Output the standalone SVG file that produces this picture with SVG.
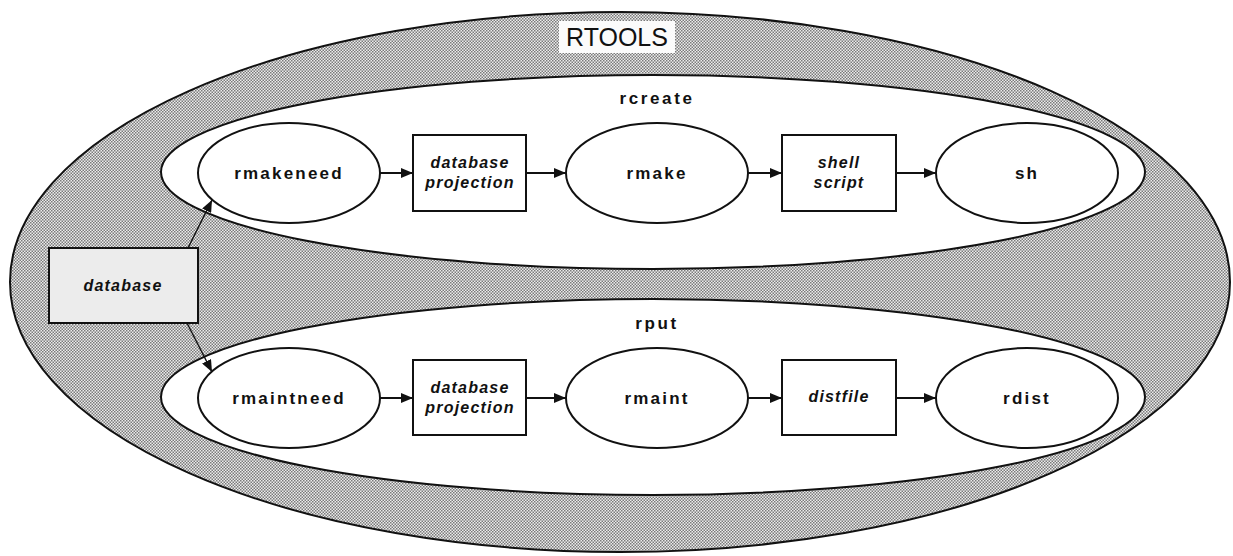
<svg xmlns="http://www.w3.org/2000/svg" width="1233" height="556" viewBox="0 0 1233 556">
  <defs>
    <!-- fine halftone stipple used for the RTOOLS band -->
    <pattern id="stipple" width="3" height="3" patternUnits="userSpaceOnUse">
      <rect width="3" height="3" fill="#ececec"/>
      <rect x="0" y="0" width="1.5" height="1.5" fill="#7a7a7a"/>
      <rect x="1.5" y="1.5" width="1.5" height="1.5" fill="#7a7a7a"/>
    </pattern>
    <marker id="arrow" markerWidth="12" markerHeight="10" refX="12" refY="5" orient="auto" markerUnits="userSpaceOnUse">
      <path d="M0,0 L12,5 L0,10 Z" fill="#111"/>
    </marker>
  </defs>
  <style>
    .outline { stroke: #111; stroke-width: 2; }
    .proc { fill: #ffffff; stroke: #111; stroke-width: 2; }
    .data { fill: #ffffff; stroke: #111; stroke-width: 2; }
    .proc-label { font-family: "Liberation Sans", Arial, sans-serif; font-weight: bold; font-size: 17px; letter-spacing: 2.2px; fill: #111; text-anchor: middle; }
    .data-label { font-family: "Liberation Sans", Arial, sans-serif; font-weight: bold; font-style: italic; font-size: 16px; letter-spacing: 1.2px; fill: #111; text-anchor: middle; }
    .group-label { font-family: "Liberation Sans", Arial, sans-serif; font-weight: bold; font-size: 17px; letter-spacing: 2.6px; fill: #111; text-anchor: middle; }
    .edge { stroke: #111; stroke-width: 2; fill: none; marker-end: url(#arrow); }
    .edge-thin { stroke: #111; stroke-width: 1.4; fill: none; marker-end: url(#arrow); }
  </style>

  <rect width="1233" height="556" fill="#ffffff"/>

  <!-- RTOOLS envelope -->
  <g id="rtools">
    <ellipse cx="620" cy="282" rx="610" ry="270" fill="url(#stipple)" class="outline"/>
    <rect x="559" y="21" width="116" height="32" fill="#fbfbfb"/>
    <text x="617" y="46" font-family="Liberation Sans, Arial, sans-serif" font-size="25" text-anchor="middle" fill="#111">RTOOLS</text>
  </g>

  <!-- rcreate pipeline container -->
  <g id="rcreate">
    <ellipse cx="653" cy="172" rx="492" ry="97" fill="#ffffff" class="outline"/>
    <text class="group-label" x="657" y="104">rcreate</text>
  </g>

  <!-- rput pipeline container -->
  <g id="rput">
    <ellipse cx="653" cy="397" rx="492" ry="98" fill="#ffffff" class="outline"/>
    <text class="group-label" x="657" y="329">rput</text>
  </g>

  <g id="database">
    <rect x="49" y="248" width="149" height="75" fill="#ececec" stroke="#111" stroke-width="2"/>
    <text class="data-label" x="123" y="291">database</text>
  </g>

  <!-- rcreate row -->
  <g id="rmakeneed">
    <ellipse class="proc" cx="289" cy="173" rx="91" ry="50"/>
    <text class="proc-label" x="289" y="179">rmakeneed</text>
  </g>
  <g id="projection1">
    <rect class="data" x="413" y="135" width="113" height="76"/>
    <text class="data-label" x="470" y="168">database</text>
    <text class="data-label" x="470" y="188">projection</text>
  </g>
  <g id="rmake">
    <ellipse class="proc" cx="657" cy="173" rx="91" ry="50"/>
    <text class="proc-label" x="657" y="179">rmake</text>
  </g>
  <g id="shellscript">
    <rect class="data" x="782" y="135" width="114" height="76"/>
    <text class="data-label" x="839" y="168">shell</text>
    <text class="data-label" x="839" y="188">script</text>
  </g>
  <g id="sh">
    <ellipse class="proc" cx="1027" cy="173" rx="91" ry="50"/>
    <text class="proc-label" x="1027" y="179">sh</text>
  </g>

  <!-- rput row -->
  <g id="rmaintneed">
    <ellipse class="proc" cx="289" cy="398" rx="91" ry="50"/>
    <text class="proc-label" x="289" y="404">rmaintneed</text>
  </g>
  <g id="projection2">
    <rect class="data" x="413" y="360" width="113" height="75"/>
    <text class="data-label" x="470" y="393">database</text>
    <text class="data-label" x="470" y="413">projection</text>
  </g>
  <g id="rmaint">
    <ellipse class="proc" cx="657" cy="398" rx="91" ry="50"/>
    <text class="proc-label" x="657" y="404">rmaint</text>
  </g>
  <g id="distfile">
    <rect class="data" x="782" y="360" width="114" height="75"/>
    <text class="data-label" x="839" y="402">distfile</text>
  </g>
  <g id="rdist">
    <ellipse class="proc" cx="1027" cy="398" rx="91" ry="50"/>
    <text class="proc-label" x="1027" y="404">rdist</text>
  </g>

  <!-- connectors -->
  <g id="connectors">
    <line class="edge-thin" x1="188" y1="248" x2="212" y2="200"/>
    <line class="edge-thin" x1="187" y1="323" x2="212" y2="372"/>

    <line class="edge" x1="380" y1="173" x2="413" y2="173"/>
    <line class="edge" x1="526" y1="173" x2="566" y2="173"/>
    <line class="edge" x1="748" y1="173" x2="782" y2="173"/>
    <line class="edge" x1="896" y1="173" x2="936" y2="173"/>

    <line class="edge" x1="380" y1="398" x2="413" y2="398"/>
    <line class="edge" x1="526" y1="398" x2="566" y2="398"/>
    <line class="edge" x1="748" y1="398" x2="782" y2="398"/>
    <line class="edge" x1="896" y1="398" x2="936" y2="398"/>
  </g>
</svg>
